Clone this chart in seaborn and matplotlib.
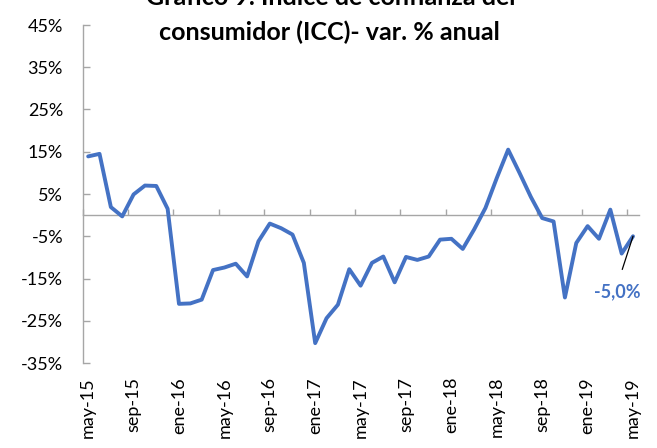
import numpy as np
import pandas as pd
import matplotlib
matplotlib.use("Agg")
import matplotlib.pyplot as plt
import seaborn as sns

# ICC, variación % anual, may-15 .. may-19 (mensual)
MESES = ["ene", "feb", "mar", "abr", "may", "jun",
         "jul", "ago", "sep", "oct", "nov", "dic"]
icc = [13.9, 14.5, 1.9, -0.3, 4.9, 7.0, 6.9, 1.5, -21.0, -20.9,
       -20.0, -13.0, -12.4, -11.5, -14.5, -6.2, -2.0, -3.1, -4.6, -11.3,
       -30.3, -24.4, -21.2, -12.8, -16.7, -11.3, -9.8, -15.9, -9.9, -10.6,
       -9.8, -5.8, -5.6, -8.0, -3.4, 1.7, 8.8, 15.5, 10.0, 4.3,
       -0.7, -1.5, -19.5, -6.6, -2.6, -5.6, 1.3, -9.1, -5.0]
y_ticks = [-35, -25, -15, -5, 5, 15, 25, 35, 45]
ultimo_label = "-5,0%"

labels = []
for k in range(len(icc)):
    m = (4 + k) % 12
    a = 15 + (4 + k) // 12
    labels.append(f"{MESES[m]}-{a}")

df = pd.DataFrame({"pos": np.arange(len(icc)) + 0.5, "icc": icc, "mes": labels})

sns.set_theme(style="white")
plt.rcParams["font.family"] = ["Lato", "DejaVu Sans"]

AZUL = "#4472C4"
GRIS = "#a6a6a6"

fig = plt.figure(figsize=(6.57, 4.48), dpi=100)
ax = fig.add_axes([82.5 / 657, 1 - 363 / 448, (638.7 - 82.5) / 657, (363 - 25) / 448])

sns.lineplot(data=df, x="pos", y="icc", ax=ax, color=AZUL, linewidth=2.8,
             solid_joinstyle="round", solid_capstyle="round")

ax.set_xlim(0, len(icc))
ax.set_ylim(-35, 45)
ax.set_xlabel("")
ax.set_ylabel("")

ax.set_yticks(y_ticks)
ax.set_yticklabels([f"{v}%" for v in y_ticks], fontsize=13, color="#000000")
ax.tick_params(axis="y", direction="in", length=5, width=1, color=GRIS, pad=14, left=True)

idx = list(range(0, len(icc), 4))
ax.set_xticks(df["pos"].iloc[idx])
ax.set_xticklabels(df["mes"].iloc[idx], rotation=90, fontsize=13, color="#000000")
ax.tick_params(axis="x", length=0, pad=10)

for s in ["top", "right", "bottom"]:
    ax.spines[s].set_visible(False)
ax.spines["left"].set_color(GRIS)
ax.spines["left"].set_linewidth(1)

# eje horizontal en 0 con marcas entre categorias
cero = ax.secondary_xaxis(35 / 80)
cero.set_xticks(range(0, len(icc) + 1, 4))
cero.tick_params(direction="in", length=4.5, width=1, color=GRIS, labelbottom=False)
cero.spines["bottom"].set_color(GRIS)
cero.spines["bottom"].set_linewidth(1)

ax.annotate(ultimo_label, xy=(df["pos"].iloc[-1], icc[-1]), xytext=(-11, -40),
            textcoords="offset points", ha="center", va="center",
            fontsize=13, fontweight="bold", color=AZUL,
            arrowprops=dict(arrowstyle="-", color="black", lw=0.9,
                            relpos=(0.5, 1), shrinkA=8, shrinkB=0))

fig.text(0.504, 1 - 5 / 448, "Gráfico 9. Índice de confianza del", ha="center",
         va="baseline", fontsize=18, fontweight="bold", color="#000000")
fig.text(0.501, 1 - 40 / 448, "consumidor (ICC)- var. % anual", ha="center",
         va="baseline", fontsize=18, fontweight="bold", color="#000000")

fig.savefig("out.png", dpi=100, facecolor="white")
